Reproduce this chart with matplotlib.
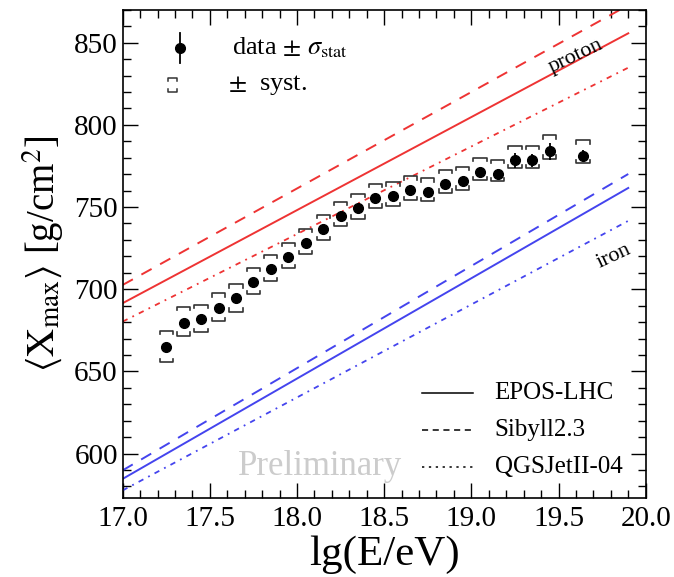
import numpy as np
import matplotlib
matplotlib.use('Agg')
import matplotlib.pyplot as plt
from matplotlib.ticker import MultipleLocator, FormatStrFormatter

plt.rcParams['font.family'] = ['Liberation Serif', 'DejaVu Serif']
plt.rcParams['mathtext.fontset'] = 'stix'

# measured <Xmax>
lgE = [17.25, 17.35, 17.45, 17.55, 17.65, 17.75, 17.85, 17.95, 18.05, 18.15,
       18.25, 18.35, 18.45, 18.55, 18.65, 18.75, 18.85, 18.95, 19.05, 19.15,
       19.25, 19.35, 19.45, 19.64]
xmax = [665.0, 679.6, 681.7, 688.4, 694.5, 704.6, 712.2, 719.9, 728.4, 736.8,
        744.7, 749.4, 755.7, 756.5, 760.1, 758.9, 764.2, 766.0, 771.3, 770.3,
        778.4, 778.4, 783.9, 781.3]
stat = [1.2, 1.0, 1.0, 1.0, 1.0, 1.0, 1.0, 1.0, 1.0, 1.0,
        1.0, 1.2, 1.2, 1.3, 1.5, 1.7, 2.0, 2.2, 2.5, 3.0,
        4.5, 4.0, 5.0, 3.5]
syst_up = [9.5, 9.5, 9.0, 9.0, 8.5, 8.5, 8.5, 8.5, 8.5, 8.3,
           8.3, 8.5, 8.5, 8.5, 8.5, 8.5, 8.5, 8.5, 8.5, 8.5,
           8.9, 9.0, 9.8, 9.3]
syst_dn = [9.2, 7.9, 7.9, 8.0, 8.1, 7.5, 7.5, 7.2, 7.2, 7.1,
           6.5, 6.5, 6.0, 6.0, 6.0, 5.5, 5.5, 5.5, 5.0, 4.7,
           4.7, 4.7, 4.5, 4.5]

# model predictions (start at 17.0, end at 19.9)
model_x = [17.0, 19.9]
p_epos = [691.5, 855.7]
p_sib = [702.6, 872.8]
p_qgs = [680.3, 834.8]
fe_epos = [584.6, 761.6]
fe_sib = [589.8, 770.1]
fe_qgs = [577.6, 741.6]

models = ['EPOS-LHC', 'Sibyll2.3', 'QGSJetII-04']

red = '#ee3333'
blue = '#4444ee'
dashed = (0, (6, 5))
dotted = (0, (3, 3, 1, 3))

fig = plt.figure(figsize=(6.74, 5.77), dpi=100)
ax = fig.add_axes([0.182, 0.137, 0.776, 0.846])

ax.plot(model_x, p_epos, color=red, lw=1.4)
ax.plot(model_x, p_sib, color=red, lw=1.4, ls=dashed)
ax.plot(model_x, p_qgs, color=red, lw=1.3, ls=dotted)
ax.plot(model_x, fe_epos, color=blue, lw=1.4)
ax.plot(model_x, fe_sib, color=blue, lw=1.4, ls=dashed)
ax.plot(model_x, fe_qgs, color=blue, lw=1.3, ls=dotted)

# systematic brackets
w = 0.038
tick = 2.0
for x, y, su, sd in zip(lgE, xmax, syst_up, syst_dn):
    yt = y + su
    yb = y - sd
    ax.plot([x - w, x - w, x + w, x + w], [yt - tick, yt, yt, yt - tick],
            color='#333333', lw=1.2)
    ax.plot([x - w, x - w, x + w, x + w], [yb + tick, yb, yb, yb + tick],
            color='#333333', lw=1.2)

ax.errorbar(lgE, xmax, yerr=stat, fmt='o', color='black', ms=7,
            elinewidth=1.3, capsize=0)

ax.set_xlim(17.0, 20.0)
ax.set_ylim(573, 870)
ax.xaxis.set_major_locator(MultipleLocator(0.5))
ax.xaxis.set_minor_locator(MultipleLocator(0.1))
ax.yaxis.set_major_locator(MultipleLocator(50))
ax.yaxis.set_minor_locator(MultipleLocator(10))
ax.xaxis.set_major_formatter(FormatStrFormatter('%.1f'))
ax.yaxis.set_major_formatter(FormatStrFormatter('%d'))
ax.tick_params(which='both', direction='in', top=True, right=True,
               labelsize=21, width=1.0)
ax.tick_params(which='major', length=11)
ax.tick_params(which='minor', length=6)
ax.tick_params(axis='x', pad=6)
for lab in ax.get_xticklabels() + ax.get_yticklabels():
    lab.set_fontfamily('Liberation Serif')
for s in ax.spines.values():
    s.set_linewidth(1.2)

ax.set_xlabel('lg(E/eV)', fontsize=31, labelpad=2)
ax.set_ylabel(r'$\langle \mathrm{X}_{\rm max}\rangle$ [g/cm$^2$]', fontsize=28,
              labelpad=6)

# labels on the lines
ax.text(19.6, 842, 'proton', fontsize=16, rotation=25, ha='center', va='center')
ax.text(19.82, 720, 'iron', fontsize=16, rotation=25, ha='center', va='center')
ax.text(18.13, 592, 'Preliminary', fontsize=25, color='#cccccc',
        ha='center', va='center')

# data legend (top left), drawn by hand
T = ax.transAxes
ax.plot([0.110], [0.922], 'o', color='black', ms=7, transform=T)
ax.plot([0.110, 0.110], [0.891, 0.953], color='black', lw=1.3, transform=T)
ax.text(0.209, 0.922, r'data $\pm$ $\sigma_{\rm stat}$', fontsize=19,
        va='center', ha='left', transform=T)
bx, bw, bt = 0.095, 0.008, 0.006
ax.plot([bx - bw, bx - bw, bx + bw, bx + bw], [0.861 - bt, 0.861, 0.861, 0.861 - bt],
        color='#333333', lw=1.1, transform=T)
ax.plot([bx - bw, bx - bw, bx + bw, bx + bw], [0.832 + bt, 0.832, 0.832, 0.832 + bt],
        color='#333333', lw=1.1, transform=T)
ax.text(0.201, 0.846, r'$\pm$  syst.', fontsize=19, va='center', ha='left',
        transform=T)

# model legend (bottom right), drawn by hand
leg_y = [0.215, 0.139, 0.063]
leg_ls = ['-', (0, (4, 3)), (0, (1.5, 3))]
for name, yy, ls in zip(models, leg_y, leg_ls):
    ax.plot([0.572, 0.670], [yy, yy], color='black', lw=1.1, ls=ls, transform=T)
    ax.text(0.711, yy, name, fontsize=18, va='center', ha='left', transform=T)

fig.savefig('out.png', dpi=100)
